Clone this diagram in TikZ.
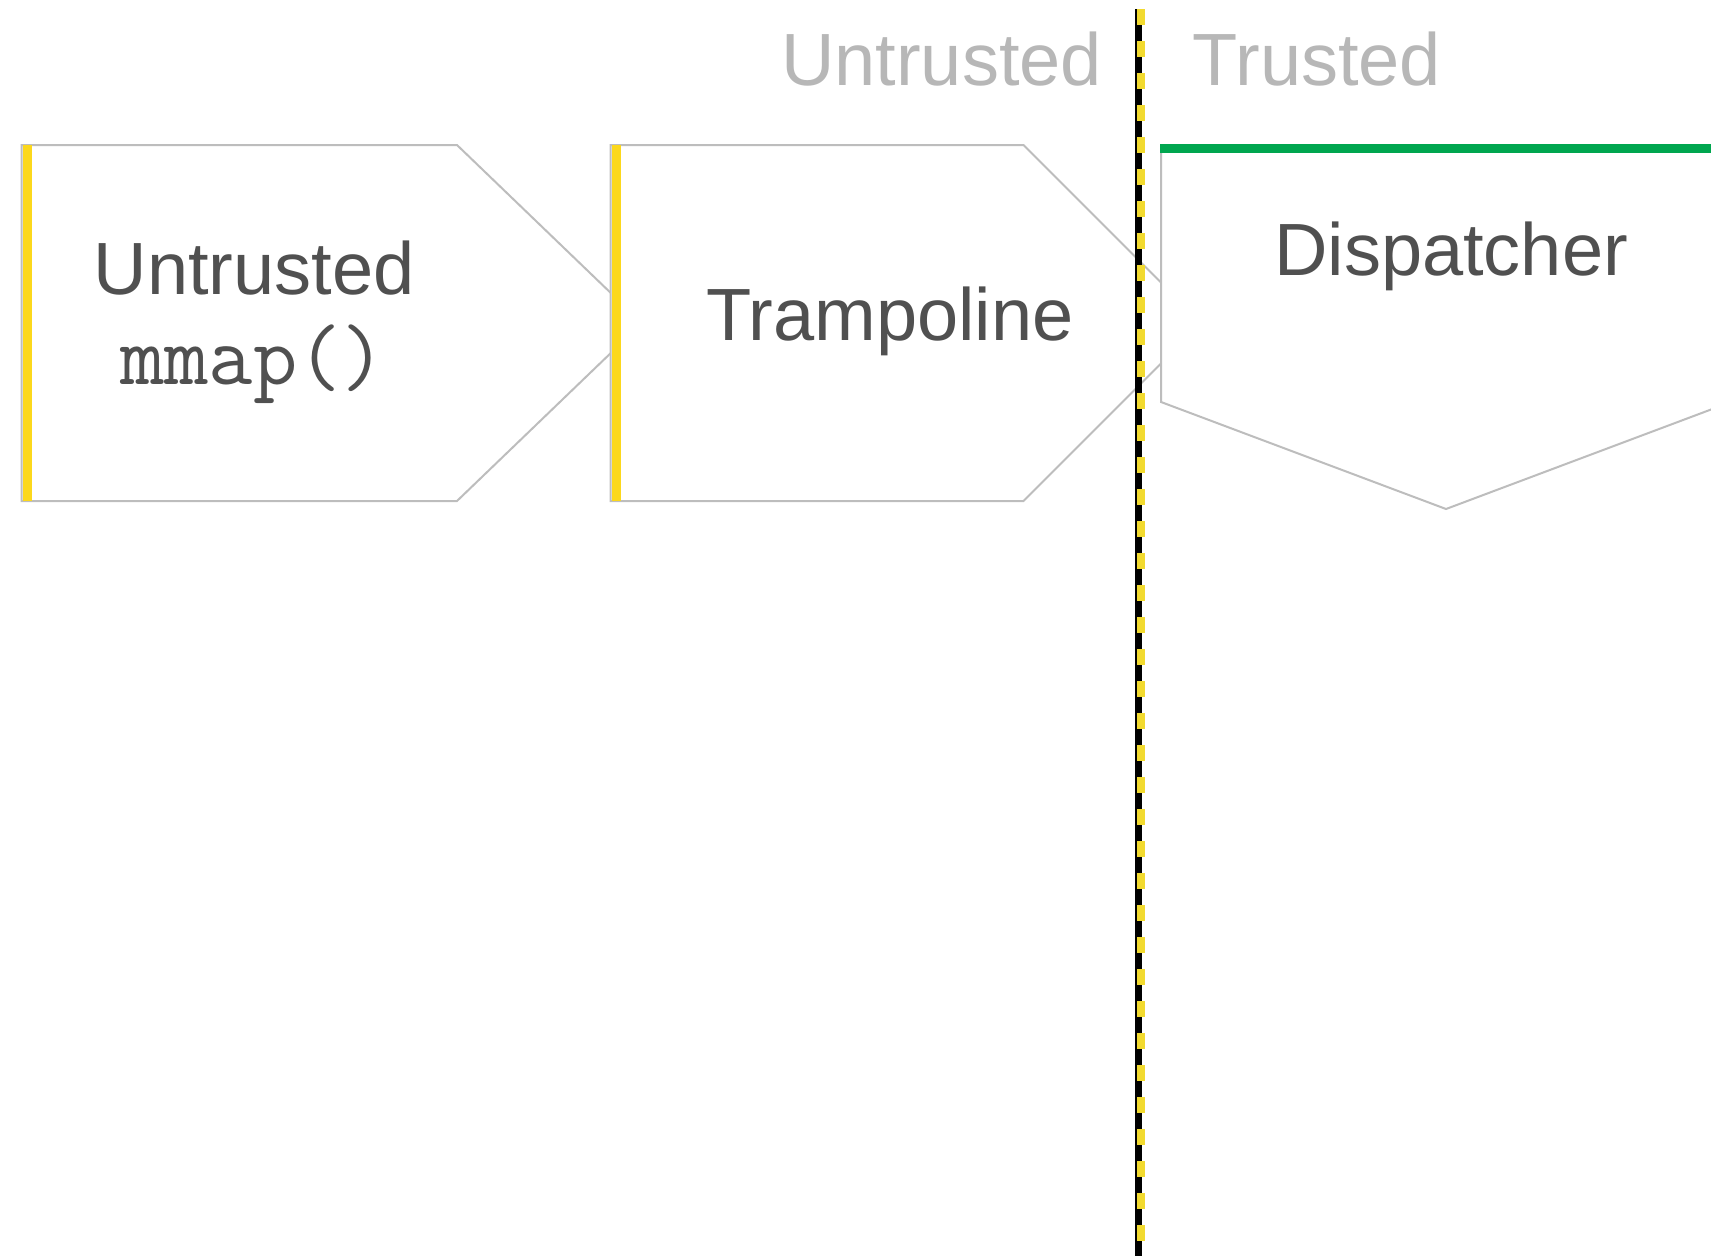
\documentclass[tikz,border=0pt]{standalone}
\usepackage{fontspec}
\setmainfont{Liberation Sans}

\definecolor{inkgray}{HTML}{505050}
\definecolor{headgray}{HTML}{B7B7B7}
\definecolor{edgegray}{HTML}{BDBDBD}
\definecolor{baryellow}{HTML}{FCD81C}
\definecolor{dashyellow}{HTML}{F2DA2F}
\definecolor{trustgreen}{HTML}{00A64F}

\tikzset{
  stagebox/.style={draw=edgegray, fill=white, line width=2},
  untrustbar/.style={draw=baryellow, line width=9},
  trustbar/.style={draw=trustgreen, line width=9},
  label/.style={inner sep=0pt, anchor=base, text=inkgray,
                font=\fontsize{74}{88}\selectfont},
  headlabel/.style={label, text=headgray},
  codelabel/.style={label, font=\ttfamily\fontsize{86}{98}\selectfont},
}

\begin{document}
\begin{tikzpicture}[x=1pt, y=-1pt]
\useasboundingbox (0,0) rectangle (1711,1256);
\clip (0,0) rectangle (1711,1256);

% stage 1: untrusted mmap()
\draw[stagebox] (21.5,145) -- (457,145) -- (642,323) -- (457,501) -- (21.5,501) -- cycle;
\draw[untrustbar] (27.5,145) -- (27.5,501);

% stage 2: trampoline
\draw[stagebox] (610.5,145) -- (1023.5,145) -- (1201.5,323) -- (1023.5,501) -- (610.5,501) -- cycle;
\draw[untrustbar] (616.5,145) -- (616.5,501);

% stage 3: dispatcher (runs past the right edge)
\draw[stagebox] (1161,148) -- (1731,148) -- (1731,402) -- (1446,509) -- (1161,402) -- cycle;
\draw[trustbar] (1160,148) -- (1711,148);

% trust boundary
\coordinate (sepTop) at (1138.5,9);
\coordinate (sepBot) at (1138.5,1256);
\draw[line width=7, black] (sepTop) -- (sepBot);
\draw[line width=8, dashyellow, dash pattern=on 16 off 16]
  ([xshift=2.5pt]sepTop) -- ([xshift=2.5pt]sepBot);

% labels
\node[headlabel] (hdrUntrusted) at (941.5,85) {Untrusted};
\node[headlabel] (hdrTrusted) at (1317,85) {Trusted};

\node[label] (mmapTitle) at (254,294.5) {Untrusted};
\node[codelabel] (mmapCode) at (253,384) {mmap()};
\node[label] (tramp) at (890,340) {Trampoline};
\node[label] (disp) at (1451,275) {Dispatcher};
\end{tikzpicture}
\end{document}
